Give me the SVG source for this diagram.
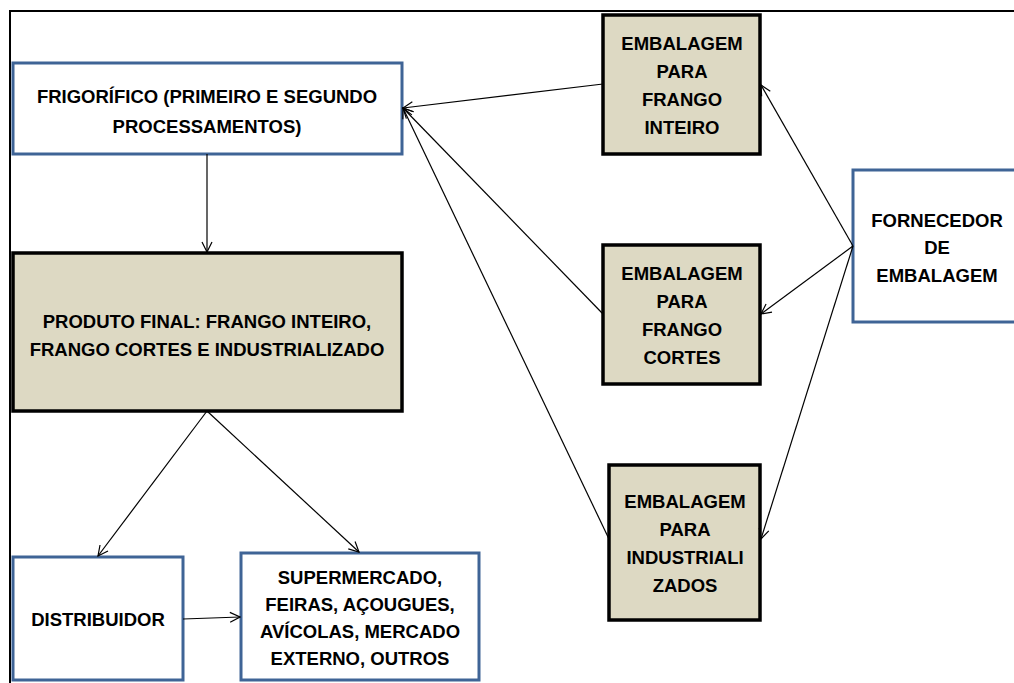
<svg xmlns="http://www.w3.org/2000/svg" width="1014" height="683" viewBox="0 0 1014 683">
<defs>
<style>
.t{font-family:"Liberation Sans",Arial,sans-serif;font-weight:bold;font-size:18.5px;fill:#000;text-anchor:middle}
.wb{fill:#fff;stroke:#3F6496;stroke-width:3}
.bg{fill:#DDD9C3;stroke:#000;stroke-width:3.5}
.c{stroke:#000;stroke-width:1.2;fill:none;marker-end:url(#ah)}
</style>
<marker id="ah" viewBox="0 0 12 12" refX="11" refY="6" markerWidth="12" markerHeight="12" markerUnits="userSpaceOnUse" orient="auto">
<path d="M1,1 L11,6 L1,11" fill="none" stroke="#000" stroke-width="1.2"/>
</marker>
</defs>
<rect x="0" y="0" width="1014" height="683" fill="#fff"/>
<path d="M10,683 V11 H1014" fill="none" stroke="#000" stroke-width="2"/>
<g id="frigorifico">
<rect class="wb" x="13" y="63" width="389" height="91"/>
<text class="t" x="207" y="103">FRIGORÍFICO (PRIMEIRO E SEGUNDO</text>
<text class="t" x="207" y="133">PROCESSAMENTOS)</text>
</g>
<g id="produto">
<rect class="bg" x="13" y="253" width="389" height="158"/>
<text class="t" x="207" y="328">PRODUTO FINAL: FRANGO INTEIRO,</text>
<text class="t" x="207" y="356">FRANGO CORTES E INDUSTRIALIZADO</text>
</g>
<g id="distribuidor">
<rect class="wb" x="13" y="557" width="170" height="123"/>
<text class="t" x="98" y="626">DISTRIBUIDOR</text>
</g>
<g id="supermercado">
<rect class="wb" x="241" y="553" width="238" height="127"/>
<text class="t" x="360" y="584">SUPERMERCADO,</text>
<text class="t" x="360" y="611">FEIRAS, AÇOUGUES,</text>
<text class="t" x="360" y="638">AVÍCOLAS, MERCADO</text>
<text class="t" x="360" y="665">EXTERNO, OUTROS</text>
</g>
<g id="emb-inteiro">
<rect class="bg" x="603" y="15" width="157" height="139"/>
<text class="t" x="682" y="50">EMBALAGEM</text>
<text class="t" x="682" y="78">PARA</text>
<text class="t" x="682" y="106">FRANGO</text>
<text class="t" x="682" y="134">INTEIRO</text>
</g>
<g id="emb-cortes">
<rect class="bg" x="603" y="245" width="157" height="139"/>
<text class="t" x="682" y="280">EMBALAGEM</text>
<text class="t" x="682" y="308">PARA</text>
<text class="t" x="682" y="336">FRANGO</text>
<text class="t" x="682" y="364">CORTES</text>
</g>
<g id="emb-industrializados">
<rect class="bg" x="609" y="465" width="151" height="155"/>
<text class="t" x="685" y="508">EMBALAGEM</text>
<text class="t" x="685" y="536">PARA</text>
<text class="t" x="685" y="564">INDUSTRIALI</text>
<text class="t" x="685" y="592">ZADOS</text>
</g>
<g id="fornecedor">
<rect class="wb" x="853" y="170" width="175" height="152"/>
<text class="t" x="937" y="227">FORNECEDOR</text>
<text class="t" x="937" y="254">DE</text>
<text class="t" x="937" y="282">EMBALAGEM</text>
</g>
<g id="connectors">
<line class="c" x1="207" y1="154" x2="207" y2="252" stroke="#555"/>
<line class="c" x1="207" y1="411" x2="98" y2="556"/>
<line class="c" x1="207" y1="411" x2="359" y2="552"/>
<line class="c" x1="183" y1="619" x2="240" y2="617"/>
<line class="c" x1="603" y1="84" x2="403" y2="108"/>
<line class="c" x1="603" y1="314" x2="403" y2="108"/>
<line class="c" x1="609" y1="539" x2="403" y2="108"/>
<line class="c" x1="853" y1="246" x2="761" y2="85"/>
<line class="c" x1="853" y1="246" x2="761" y2="314"/>
<line class="c" x1="853" y1="246" x2="761" y2="539"/>
</g>
</svg>
